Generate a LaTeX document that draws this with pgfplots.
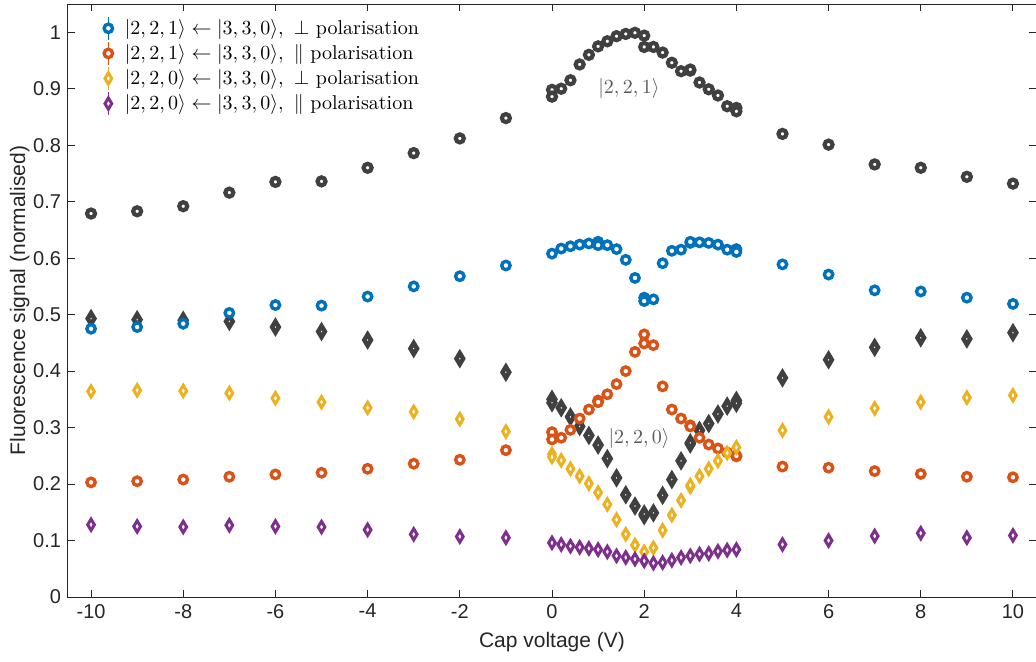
\documentclass[border=0pt]{standalone}
\usepackage{fontspec}
\usepackage{pgfplots}
\usepackage{pgfplotstable}
\pgfplotsset{compat=1.18}
\newfontfamily\helv{Liberation Sans}

\definecolor{cgray}{RGB}{64,64,64}
\definecolor{cblue}{RGB}{0,114,189}
\definecolor{corange}{RGB}{217,83,25}
\definecolor{cyellow}{RGB}{237,177,32}
\definecolor{cpurple}{RGB}{126,47,142}
\definecolor{caxis}{RGB}{38,38,38}

% total |2,2,1> signal
\pgfplotstableread{
x y
-10 0.679
-9 0.683
-8 0.692
-7 0.716
-6 0.735
-5 0.736
-4 0.760
-3 0.786
-2 0.812
-1 0.848
0 0.898
0 0.886
0.2 0.900
0.4 0.915
0.6 0.943
0.8 0.960
1.0 0.975
1.2 0.984
1.4 0.993
1.6 0.997
1.8 0.999
2.0 0.994
2.0 0.974
2.2 0.974
2.4 0.964
2.6 0.946
2.8 0.931
3.0 0.932
3.0 0.934
3.2 0.911
3.4 0.899
3.6 0.888
3.8 0.869
4.0 0.866
4.0 0.860
5 0.820
6 0.801
7 0.766
8 0.760
9 0.744
10 0.732
}\totalA

% total |2,2,0> signal
\pgfplotstableread{
x y
-10 0.493
-9 0.491
-8 0.490
-7 0.488
-6 0.478
-5 0.470
-4 0.455
-3 0.440
-2 0.422
-1 0.398
0 0.350
0 0.344
0.2 0.335
0.4 0.319
0.6 0.302
0.8 0.286
1.0 0.269
1.2 0.245
1.4 0.211
1.6 0.181
1.8 0.161
2.0 0.144
2.0 0.147
2.2 0.149
2.4 0.180
2.6 0.208
2.8 0.241
3.0 0.271
3.0 0.273
3.2 0.295
3.4 0.307
3.6 0.324
3.8 0.338
4.0 0.348
4.0 0.343
5 0.388
6 0.420
7 0.442
8 0.459
9 0.457
10 0.468
}\totalB

% |2,2,1> <- |3,3,0>, perpendicular
\pgfplotstableread{
x y
-10 0.475
-9 0.478
-8 0.484
-7 0.503
-6 0.517
-5 0.516
-4 0.532
-3 0.550
-2 0.568
-1 0.587
0 0.608
0.2 0.617
0.4 0.621
0.6 0.624
0.8 0.626
1.0 0.629
1.0 0.623
1.2 0.623
1.4 0.616
1.6 0.597
1.8 0.565
2.0 0.530
2.0 0.524
2.2 0.527
2.4 0.591
2.6 0.613
2.8 0.615
3.0 0.627
3.0 0.629
3.2 0.628
3.4 0.627
3.6 0.624
3.8 0.615
4.0 0.616
4.0 0.611
5 0.589
6 0.571
7 0.543
8 0.541
9 0.530
10 0.519
}\perpA

% |2,2,1> <- |3,3,0>, parallel
\pgfplotstableread{
x y
-10 0.203
-9 0.205
-8 0.208
-7 0.213
-6 0.217
-5 0.220
-4 0.227
-3 0.236
-2 0.243
-1 0.260
0 0.292
0 0.279
0.2 0.282
0.4 0.296
0.6 0.316
0.8 0.332
1.0 0.348
1.0 0.345
1.2 0.359
1.4 0.377
1.6 0.400
1.8 0.434
2.0 0.465
2.0 0.449
2.2 0.446
2.4 0.373
2.6 0.332
2.8 0.316
3.0 0.304
3.0 0.302
3.2 0.282
3.4 0.270
3.6 0.263
3.8 0.256
4.0 0.249
4.0 0.250
5 0.231
6 0.229
7 0.223
8 0.218
9 0.213
10 0.212
}\parA

% |2,2,0> <- |3,3,0>, perpendicular
\pgfplotstableread{
x y
-10 0.364
-9 0.366
-8 0.365
-7 0.361
-6 0.352
-5 0.345
-4 0.335
-3 0.328
-2 0.315
-1 0.293
0 0.253
0 0.248
0.2 0.242
0.4 0.227
0.6 0.214
0.8 0.201
1.0 0.185
1.2 0.164
1.4 0.137
1.6 0.111
1.8 0.092
2.0 0.080
2.2 0.087
2.4 0.118
2.6 0.145
2.8 0.171
3.0 0.195
3.0 0.198
3.2 0.214
3.4 0.227
3.6 0.241
3.8 0.255
4.0 0.265
5 0.295
6 0.319
7 0.334
8 0.345
9 0.353
10 0.357
}\perpB

% |2,2,0> <- |3,3,0>, parallel
\pgfplotstableread{
x y
-10 0.128
-9 0.125
-8 0.124
-7 0.127
-6 0.125
-5 0.124
-4 0.119
-3 0.111
-2 0.107
-1 0.105
0 0.096
0.2 0.093
0.4 0.090
0.6 0.088
0.8 0.086
1.0 0.084
1.2 0.080
1.4 0.073
1.6 0.070
1.8 0.067
2.0 0.064
2.2 0.060
2.4 0.061
2.6 0.065
2.8 0.070
3.0 0.073
3.2 0.076
3.4 0.077
3.6 0.081
3.8 0.083
4.0 0.084
5 0.093
6 0.100
7 0.108
8 0.113
9 0.105
10 0.109
}\parB

\begin{document}
\begin{tikzpicture}
\begin{axis}[
  at={(0pt,0pt)}, anchor=south west,
  scale only axis,
  width=484pt, height=296.5pt,
  xmin=-10.5, xmax=10.5,
  ymin=0, ymax=1.05,
  xtick={-10,-8,...,10},
  ytick={0,0.1,...,1.0},
  yticklabels={0,0.1,0.2,0.3,0.4,0.5,0.6,0.7,0.8,0.9,1},
  tick align=inside,
  major tick length=3.5pt,
  axis line style={caxis, line width=0.5pt},
  tick style={caxis, line width=0.5pt},
  /pgf/number format/assume math mode=true,
  ticklabel style={font=\helv\fontsize{10}{12}\selectfont, text=caxis},
  xlabel={Cap voltage (V)},
  ylabel={Fluorescence signal (normalised)},
  label style={font=\helv\fontsize{10.5}{13}\selectfont, text=caxis},
  xlabel style={yshift=0pt},
  ylabel style={yshift=-5pt},
  legend cell align=left,
  legend style={draw=none, fill=none, at={(axis description cs:0.0298,0.985)}, anchor=north west,
    font=\fontsize{10}{12}\selectfont, row sep=-0.45pt, inner sep=1pt},
  legend image code/.code={
    \path[draw=none, fill=none] (0cm,0cm) -- (0.38cm,0cm);
    \draw[#1, mark=none, line width=0.6pt] (0.16cm,-0.2cm) -- (0.16cm,0.2cm);
    \draw[#1, only marks] plot coordinates {(0.16cm,0cm)};
  },
  circ/.style={only marks, mark=*, mark size=2.1pt, line width=1.7pt, fill=white},
  diam/.style={only marks, mark=diamond*, mark size=2.8pt, line width=1.5pt, fill=white,
    mark options={xscale=0.8}},
]
\addplot[circ, draw=cgray, mark size=2.0pt, line width=2.1pt, forget plot] table {\totalA};
\addplot[diam, draw=cgray, line width=2.2pt, mark size=2.8pt, forget plot] table {\totalB};
\addplot[circ, draw=cblue] table {\perpA};
\addlegendentry{$|2,2,1\rangle \leftarrow |3,3,0\rangle,\ \perp$ polarisation}
\addplot[circ, draw=corange] table {\parA};
\addlegendentry{$|2,2,1\rangle \leftarrow |3,3,0\rangle,\ \|$ polarisation}
\addplot[diam, draw=cyellow] table {\perpB};
\addlegendentry{$|2,2,0\rangle \leftarrow |3,3,0\rangle,\ \perp$ polarisation}
\addplot[diam, draw=cpurple] table {\parB};
\addlegendentry{$|2,2,0\rangle \leftarrow |3,3,0\rangle,\ \|$ polarisation}
\node[text=black!65, font=\fontsize{10}{12}\selectfont] at (axis cs:1.67,0.900) {$|2,2,1\rangle$};
\node[text=black!65, font=\fontsize{10}{12}\selectfont] at (axis cs:1.89,0.281) {$|2,2,0\rangle$};
\end{axis}
\pgfresetboundingbox
\path (-34pt,-32pt) rectangle (484pt,298.5pt);
\end{tikzpicture}
\end{document}
